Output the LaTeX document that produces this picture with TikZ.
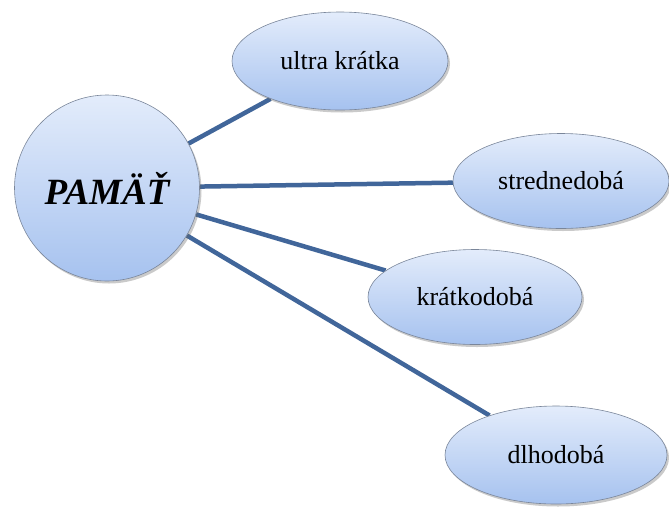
\documentclass[tikz,border=0pt]{standalone}
\usepackage{fontspec}
\setmainfont{Liberation Serif}
\usetikzlibrary{shapes.geometric,shadows,backgrounds}
\definecolor{linkblue}{HTML}{41669A}
\definecolor{topfill}{HTML}{E3ECFB}
\definecolor{botfill}{HTML}{A6C2EF}
\definecolor{edgegray}{HTML}{7A869A}
\tikzset{
  bubble/.style={ellipse, draw=edgegray, line width=0.6pt,
    top color=topfill, bottom color=botfill, inner sep=0pt,
    drop shadow={shadow xshift=2pt, shadow yshift=-2.5pt, opacity=0.35, fill=black!60},
    font=\fontsize{26}{30}\selectfont},
  link/.style={draw=linkblue, line width=4.5pt}
}
\begin{document}
\begin{tikzpicture}[x=1pt,y=-1pt]
\useasboundingbox (0,0) rectangle (669,507);
\node[bubble, minimum width=185pt, minimum height=186pt, font=\fontsize{37}{40}\selectfont\bfseries\itshape] (pam) at (107,188) {PAMÄŤ};
\node[bubble, minimum width=216pt, minimum height=98pt] (ultra) at (340,61) {ultra krátka};
\node[bubble, minimum width=216pt, minimum height=95pt] (stred) at (561,181) {strednedobá};
\node[bubble, minimum width=214pt, minimum height=95pt] (kratko) at (475,297) {krátkodobá};
\node[bubble, minimum width=222pt, minimum height=98pt] (dlho) at (556,455) {dlhodobá};
\begin{scope}[on background layer]
\draw[link] (pam) -- (ultra);
\draw[link] (pam) -- (stred);
\draw[link] (pam) -- (kratko);
\draw[link] (pam) -- (dlho);
\end{scope}
\end{tikzpicture}
\end{document}
